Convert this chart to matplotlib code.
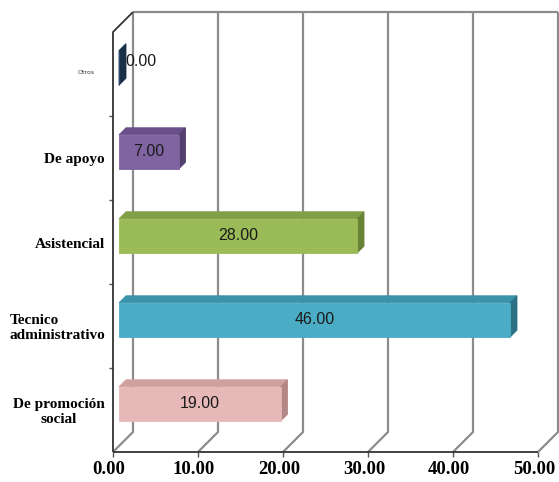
import matplotlib.pyplot as plt
from matplotlib.patches import Polygon
from matplotlib.lines import Line2D
from matplotlib.transforms import IdentityTransform

# Data (bottom to top)
categorias = ["De promoción\nsocial", "Tecnico\nadministrativo", "Asistencial", "De apoyo", "Otros"]
valores = [19.00, 46.00, 28.00, 7.00, 0.00]
ticks_x = [0, 10, 20, 30, 40, 50]
etiquetas_x = ["0.00", "10.00", "20.00", "30.00", "40.00", "50.00"]

# front / top / side face colours per bar
col_frente = ["#e6b9b8", "#4bacc6", "#9bbb59", "#8064a2", "#2c4d75"]
col_arriba = ["#cfa09f", "#3b93ab", "#819f45", "#6a508a", "#22405f"]
col_lado = ["#b48787", "#2d7284", "#688236", "#54406e", "#1a3049"]

W, H = 559, 482
PROF = 20          # wall depth in pixels
D0, D1 = 6, 13     # bar depth range in pixels
ALTO = 0.41        # bar thickness in category units
GRIS = "#8c8c8c"

fig = plt.figure(figsize=(W / 100, H / 100), dpi=100)
ax = fig.add_axes([113 / W, 30 / H, 425 / W, 420 / H])
ax.set_xlim(0, 50)
ax.set_ylim(0, len(categorias))
ax.axis("off")
ident = IdentityTransform()


def pt(x, y, d=0):
    # data point pushed back by d pixels (up and to the right)
    X, Y = ax.transData.transform((x, y))
    return (X + d, Y + d)


def linea(puntos, color=GRIS, lw=1.6, z=1):
    xs = [p[0] for p in puntos]
    ys = [p[1] for p in puntos]
    ax.add_line(Line2D(xs, ys, transform=ident, color=color, lw=lw,
                       clip_on=False, zorder=z, solid_capstyle="butt"))


def cara(puntos, color, z):
    ax.add_patch(Polygon(puntos, closed=True, transform=ident, facecolor=color,
                         edgecolor=color, lw=0.6, clip_on=False, zorder=z))


n = len(categorias)
fuente_val = ["Liberation Sans", "DejaVu Sans"]

# back wall gridlines, floor diagonals and tick marks
for v in ticks_x:
    linea([pt(v, n, PROF), pt(v, 0, PROF), pt(v, 0, 0)])
    X, Y = pt(v, 0, 0)
    linea([(X, Y), (X, Y - 5)], color="#555555", lw=1.0)

linea([pt(0, n, PROF), pt(50, n, PROF)])

# left wall and floor front edge
linea([pt(0, 0), pt(0, n), pt(0, n, PROF)], color="#333333", lw=1.3, z=2)
linea([pt(0, 0), pt(50, 0)], color="#333333", lw=1.3, z=2)
for k in range(1, n):
    X, Y = pt(0, k)
    linea([(X, Y), (X - 4, Y)], color="#555555", lw=1.0)

# bars
for i, (v, cf, ca, cl) in enumerate(zip(valores, col_frente, col_arriba, col_lado)):
    y0 = i + 0.5 - ALTO / 2
    y1 = i + 0.5 + ALTO / 2
    cara([pt(0, y1, D0), pt(v, y1, D0), pt(v, y1, D1), pt(0, y1, D1)], ca, 3)
    cara([pt(v, y0, D0), pt(v, y0, D1), pt(v, y1, D1), pt(v, y1, D0)], cl, 3)
    cara([pt(0, y0, D0), pt(v, y0, D0), pt(v, y1, D0), pt(0, y1, D0)], cf, 4)

    etiqueta = f"{v:.2f}"
    if v < 3:
        X, Y = pt(v, i + 0.5, D1)
        ax.text(X - 1, Y, etiqueta, transform=ident, ha="left", va="center",
                fontsize=11.5, family=fuente_val, color="#1a1a1a", zorder=5)
    else:
        X, Y = pt(v / 2, i + 0.5, D0)
        ax.text(X, Y, etiqueta, transform=ident, ha="center", va="center",
                fontsize=11.5, family=fuente_val, color="#1a1a1a", zorder=5)

# category labels
for i, cat in enumerate(categorias):
    X, Y = pt(0, i + 0.5)
    if cat == "Otros":
        ax.text(X - 18, Y + 1, cat, transform=ident, ha="right", va="center",
                fontsize=4.5, family="DejaVu Sans", color="#333333")
        continue
    alin = "left" if cat.startswith("Tecnico") else "center"
    ax.text(X - 8, Y - 2, cat, transform=ident, ha="right", va="center",
            multialignment=alin, fontsize=11, fontweight="bold",
            family="Liberation Serif", color="black", linespacing=1.2)

# value axis labels
for v, et in zip(ticks_x, etiquetas_x):
    X, Y = pt(v, 0)
    ax.text(X - 4, Y - 18, et, transform=ident, ha="center", va="center",
            fontsize=13.5, fontweight="bold", family="Liberation Serif", color="black")

fig.savefig("out.png", dpi=100)
